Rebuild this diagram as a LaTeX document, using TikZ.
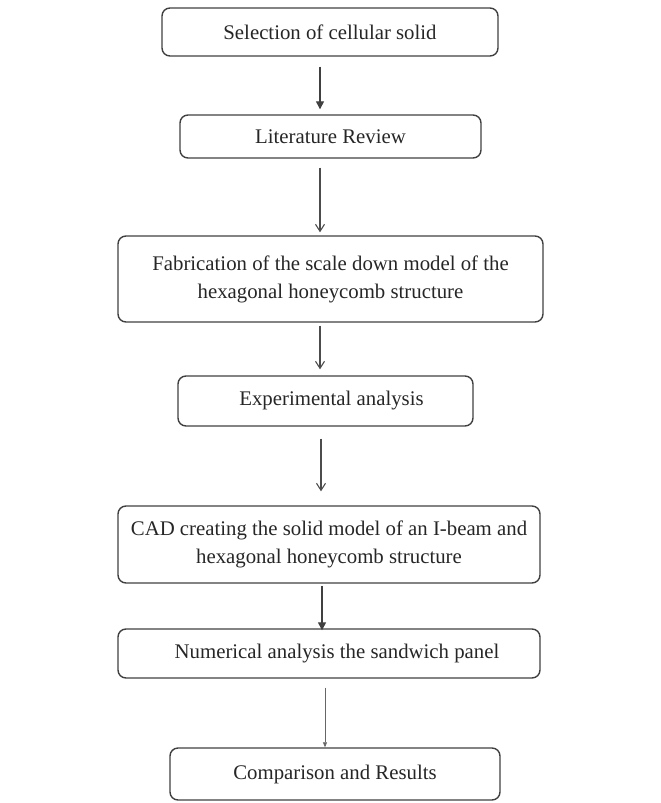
\documentclass[tikz,border=0pt]{standalone}
\usepackage{fontspec}
\setmainfont{Liberation Serif}
\usetikzlibrary{arrows.meta}
\begin{document}
\begin{tikzpicture}[x=1pt,y=-1pt,
  box/.style={draw=black!75, line width=1.4pt, rounded corners=8pt, inner sep=0pt,
    align=center, font=\fontsize{20.8}{28}\selectfont, text=black!85},
  arr/.style={draw=black!70, line width=1.1pt, -{Straight Barb[length=7pt,width=9pt]}},
  arrf/.style={draw=black!75, line width=1.3pt, -{Triangle[length=8pt,width=8pt]}},
  arrt/.style={draw=black!60, line width=0.7pt, -{Triangle[length=5pt,width=4pt]}}]
\useasboundingbox (0,0) rectangle (661,803);
\node[box, minimum width=336pt, minimum height=48pt] (b1) at (330,32) {Selection of cellular solid};
\node[box, minimum width=301pt, minimum height=43pt] (b2) at (330.5,136.5) {Literature Review};
\node[box, minimum width=425pt, minimum height=86pt] (b3) at (330.5,279) {Fabrication of the scale down model of the\\hexagonal honeycomb structure};
\node[box, minimum width=295pt, minimum height=50pt] (b4) at (325.5,401) {\hspace*{12pt}Experimental analysis};
\node[box, minimum width=422pt, minimum height=77pt] (b5) at (329,544.5) {CAD creating the solid model of an I-beam and\\hexagonal honeycomb structure};
\node[box, minimum width=422pt, minimum height=49pt] (b6) at (329,653.5) {\hspace*{16pt}Numerical analysis the sandwich panel};
\node[box, minimum width=330pt, minimum height=52pt] (b7) at (335,774) {Comparison and Results};
\coordinate (c1) at (320,0);
\coordinate (c2) at (320,0);
\coordinate (c3) at (320,0);
\coordinate (c4) at (321,0);
\coordinate (c5) at (322,0);
\coordinate (c6) at (325,0);
\draw[arrf, shorten <=10pt, shorten >=5pt] (b1.south -| c1) -- (b2.north -| c1);
\draw[arr, shorten <=9pt, shorten >=3pt] (b2.south -| c2) -- (b3.north -| c2);
\draw[arr, shorten <=3pt, shorten >=6pt] (b3.south -| c3) -- (b4.north -| c3);
\draw[arr, shorten <=12pt, shorten >=14pt] (b4.south -| c4) -- (b5.north -| c4);
\draw[arrf, shorten <=2pt, shorten >=-2pt] (b5.south -| c5) -- (b6.north -| c5);
\draw[arrt, shorten <=9pt, shorten >=0pt] (b6.south -| c6) -- (b7.north -| c6);
\end{tikzpicture}
\end{document}
